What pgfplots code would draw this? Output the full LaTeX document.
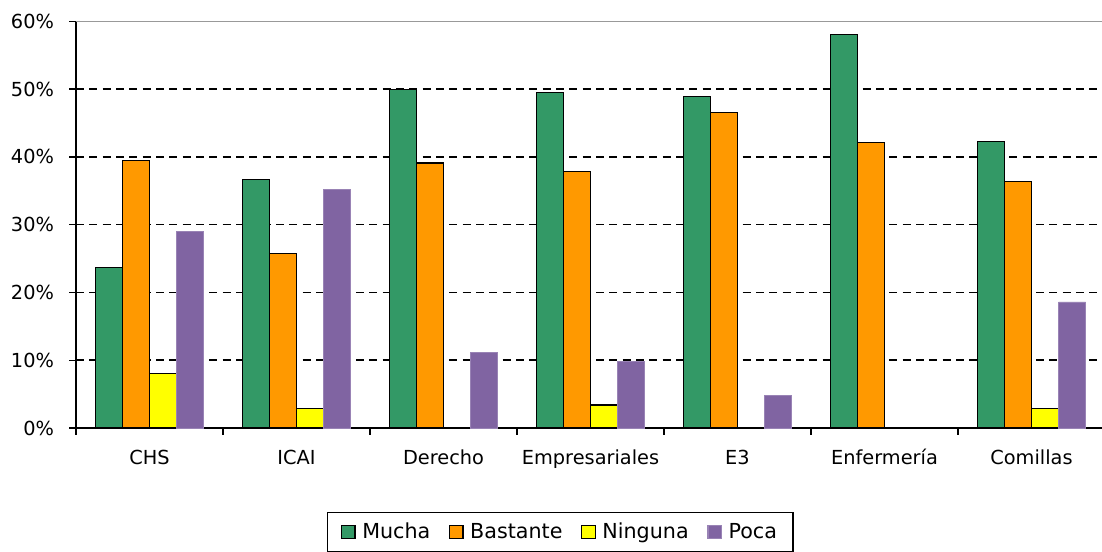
\documentclass[border=0pt]{standalone}
\usepackage{fontspec}
\setmainfont{DejaVu Sans}
\usepackage{pgfplots}
\usepackage{pgfplotstable}
\pgfplotsset{compat=1.18}
\definecolor{cmucha}{HTML}{339966}
\definecolor{cbast}{HTML}{FF9900}
\definecolor{cning}{HTML}{FFFF00}
\definecolor{cpoca}{HTML}{8064A2}
\pgfplotstableread{
x mucha bastante ninguna poca
0 23.7 39.5 8.1 29.0
1 36.7 25.8 2.9 35.2
2 50.0 39.1 nan 11.1
3 49.5 37.8 3.4 9.8
4 48.9 46.5 nan 4.8
5 58.0 42.1 nan nan
6 42.3 36.4 2.9 18.6
}\datatab
\begin{document}
\begin{tikzpicture}
\begin{axis}[
  scale only axis,
  width=771.75pt, height=305pt,
  xmin=-0.5, xmax=6.5, ymin=0, ymax=60,
  ybar=0pt, bar width=20.25pt,
  xtick={-0.5,0.5,...,6.5},
  x tick label as interval,
  xticklabels={CHS,ICAI,Derecho,Empresariales,E3,Enfermería,Comillas},
  ytick={0,10,...,60},
  yticklabel={\pgfmathprintnumber{\tick}\%},
  /pgf/number format/assume math mode=true,
  tick align=outside,
  major tick length=5pt,
  tick style={black, line width=1pt},
  axis x line*=bottom, axis y line*=left,
  axis line style={black, line width=1.3pt},
  ymajorgrids,
  grid style={black, line width=1.2pt, dash pattern=on 6pt off 4pt},
  every tick label/.append style={font=\fontsize{14.5pt}{16pt}\selectfont},
  xticklabel style={yshift=-8pt, text height=11pt, text depth=3pt},
  yticklabel style={xshift=-8pt},
  legend style={at={(0.4707,-0.2058)}, anchor=north, legend columns=4,
    draw=black, line width=1pt, font=\fontsize{15.5pt}{18pt}\selectfont,
    inner xsep=10pt, inner ysep=6pt,
    /tikz/every odd column/.append style={column sep=3pt},
    /tikz/every even column/.append style={column sep=12pt}},
  legend image code/.code={\draw[#1, line width=0.9pt] (0pt,-5pt) rectangle (10pt,5pt);},
]
\addplot[fill=cmucha, draw=black, line width=0.9pt] table[x=x,y=mucha]{\datatab};
\addplot[fill=cbast, draw=black, line width=0.9pt] table[x=x,y=bastante]{\datatab};
\addplot[fill=cning, draw=black, line width=0.9pt] table[x=x,y=ninguna]{\datatab};
\addplot[fill=cpoca, draw=cpoca!80!white, line width=0.6pt] table[x=x,y=poca]{\datatab};
\legend{Mucha,Bastante,Ninguna,Poca}
\draw[gray!80, line width=1.5pt] (axis cs:-0.5,60) -- (axis cs:6.5,60);
\end{axis}
\pgfresetboundingbox
\path[use as bounding box] (-57pt,-92.25pt) rectangle (769.5pt,321pt);
\end{tikzpicture}
\end{document}
